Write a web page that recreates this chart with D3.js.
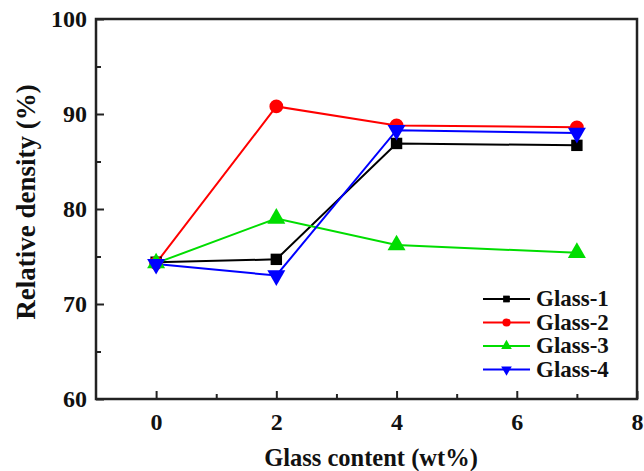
<!DOCTYPE html>
<html>
<head>
<meta charset="utf-8">
<script src="https://cdn.jsdelivr.net/npm/d3@7"></script>
<style>
body { margin: 0; background: #fff; }
</style>
</head>
<body>
<div id="chart"></div>
<script>
const glassContent = [0, 2, 4, 7];
const seriesNames = ["Glass-1", "Glass-2", "Glass-3", "Glass-4"];
const glass1 = [74.4, 74.7, 86.9, 86.7];
const glass2 = [74.3, 90.8, 88.8, 88.6];
const glass3 = [74.3, 79.0, 76.2, 75.4];
const glass4 = [74.2, 73.0, 88.3, 88.0];
const xTicks = [0, 2, 4, 6, 8];
const yTicks = [60, 70, 80, 90, 100];

const width = 644;
const height = 471;
const margin = {top: 19, bottom: 72, left: 96, right: 7};
const FONT = 'Liberation Serif';

const series = [
    {name: seriesNames[0], values: glass1, color: "#000000", symbol: d3.symbolSquare, size: 130, rot: 0},
    {name: seriesNames[1], values: glass2, color: "#ff0000", symbol: d3.symbolCircle, size: 150, rot: 0},
    {name: seriesNames[2], values: glass3, color: "#00dd00", symbol: d3.symbolTriangle, size: 140, rot: 0},
    {name: seriesNames[3], values: glass4, color: "#0000ff", symbol: d3.symbolTriangle, size: 140, rot: 180}
];

const xScale = d3.scaleLinear()
    .domain([-1, 8])
    .range([margin.left, width - margin.right]);

const yScale = d3.scaleLinear()
    .domain([60, 100])
    .range([height - margin.bottom, margin.top]);

const svg = d3.select('#chart')
    .append('svg')
    .attr('width', width)
    .attr('height', height);

// axes, ticks point inward
const xAxis = svg.append('g')
    .attr('transform', `translate(0,${height - margin.bottom})`)
    .call(d3.axisBottom(xScale).tickValues(d3.range(0, 9)).tickSize(-7).tickPadding(14)
        .tickFormat(d => xTicks.includes(d) ? d : ''));
xAxis.selectAll('.tick line').attr('y2', d => xTicks.includes(d) ? -8 : -5);

const yAxis = svg.append('g')
    .attr('transform', `translate(${margin.left},0)`)
    .call(d3.axisLeft(yScale).tickValues(d3.range(60, 101, 5)).tickSize(-7).tickPadding(9)
        .tickFormat(d => yTicks.includes(d) ? d : ''));
yAxis.selectAll('.tick line').attr('x2', d => yTicks.includes(d) ? 8 : 5);

svg.selectAll('.domain').remove();
svg.selectAll('.tick line').attr('stroke', '#222').attr('stroke-width', 2);
svg.selectAll('.tick text')
    .attr('font-family', FONT)
    .attr('font-weight', 'bold')
    .attr('font-size', 24)
    .attr('fill', '#111');

// frame
svg.append('rect')
    .attr('x', margin.left)
    .attr('y', margin.top)
    .attr('width', width - margin.left - margin.right)
    .attr('height', height - margin.top - margin.bottom)
    .attr('fill', 'none')
    .attr('stroke', '#222')
    .attr('stroke-width', 2.5);

const line = d3.line()
    .x((d, i) => xScale(glassContent[i]))
    .y(d => yScale(d));

series.forEach(s => {
    svg.append('path')
        .datum(s.values)
        .attr('d', line)
        .attr('fill', 'none')
        .attr('stroke', s.color)
        .attr('stroke-width', 2);
});

series.forEach(s => {
    svg.selectAll(null)
        .data(s.values)
        .enter()
        .append('path')
        .attr('d', d3.symbol().type(s.symbol).size(s.size))
        .attr('transform', (d, i) => `translate(${xScale(glassContent[i])},${yScale(d)}) rotate(${s.rot})`)
        .attr('fill', s.color);
});

// legend
const legend = svg.append('g').attr('transform', 'translate(483,299)');
series.forEach((s, i) => {
    const g = legend.append('g').attr('transform', `translate(0,${i * 23.5})`);
    g.append('line').attr('x1', 0).attr('x2', 47).attr('stroke', s.color).attr('stroke-width', 2);
    g.append('path')
        .attr('d', d3.symbol().type(s.symbol).size(s.size * 0.35))
        .attr('transform', `translate(23.5,0) rotate(${s.rot})`)
        .attr('fill', s.color);
    g.append('text')
        .attr('x', 53)
        .attr('y', 7)
        .attr('font-family', FONT)
        .attr('font-weight', 'bold')
        .attr('font-size', 23)
        .attr('fill', '#111')
        .text(s.name);
});

// axis titles
svg.append('text')
    .attr('x', 371)
    .attr('y', 466)
    .attr('text-anchor', 'middle')
    .attr('font-family', FONT)
    .attr('font-weight', 'bold')
    .attr('font-size', 24.5)
    .attr('fill', '#111')
    .text('Glass content (wt%)');

svg.append('text')
    .attr('transform', 'translate(35,202) rotate(-90)')
    .attr('text-anchor', 'middle')
    .attr('font-family', FONT)
    .attr('font-weight', 'bold')
    .attr('font-size', 27)
    .attr('fill', '#111')
    .text('Relative density (%)');
</script>
</body>
</html>
